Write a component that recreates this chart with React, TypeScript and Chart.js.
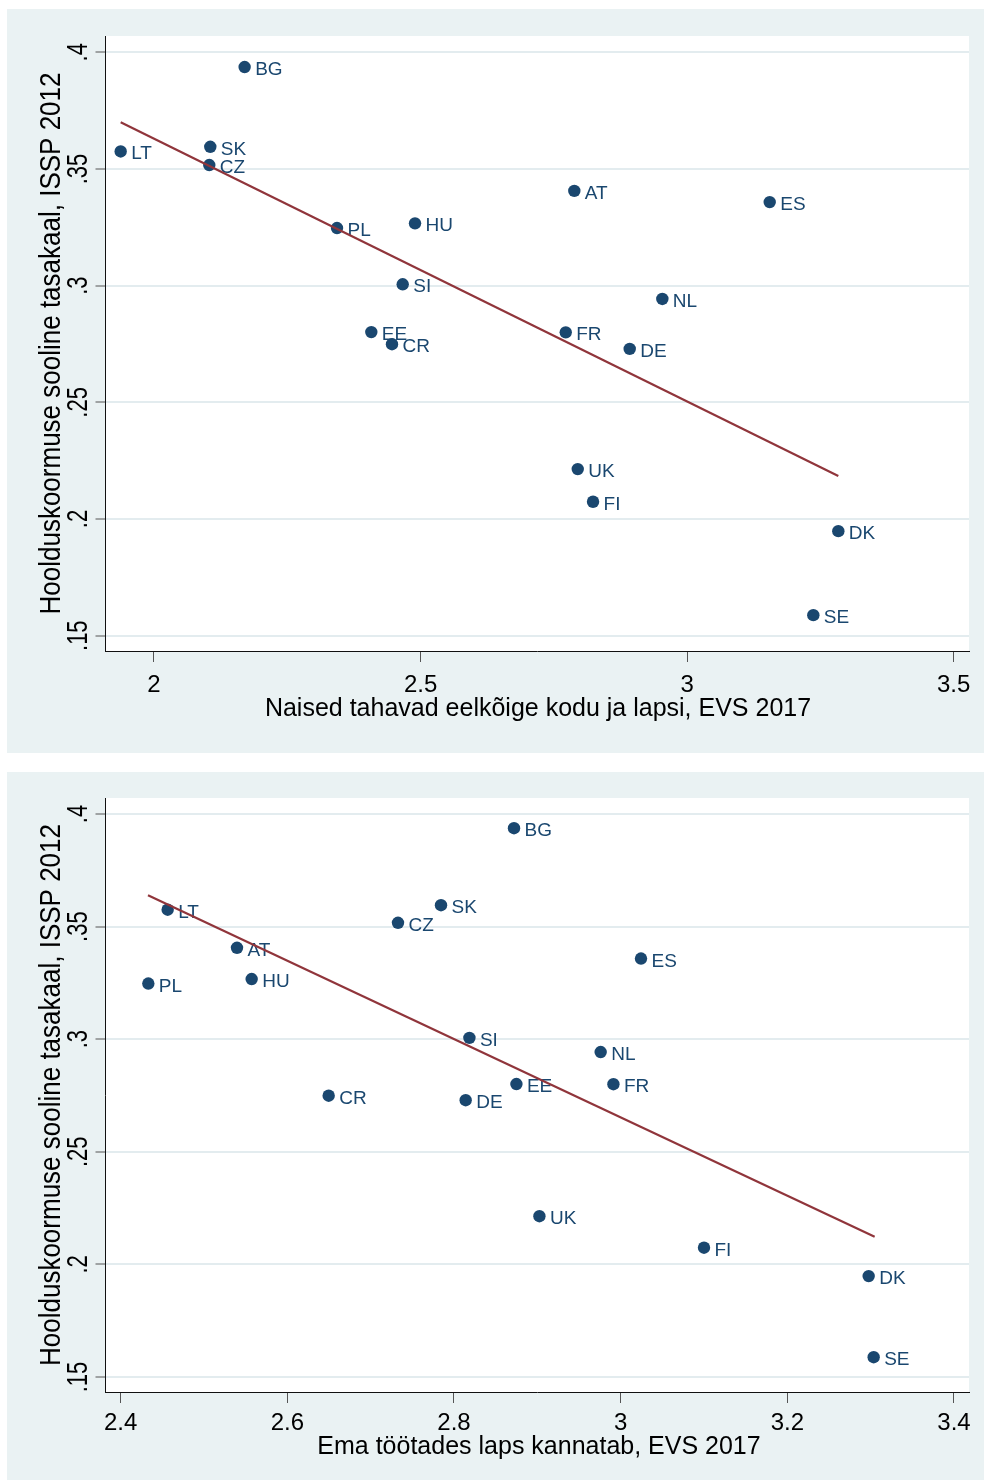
import React, { useEffect, useRef } from "react";
import { Chart, registerables } from "chart.js";

Chart.register(...registerables);

// Countries and their values
const countries = ["BG", "LT", "SK", "CZ", "PL", "HU", "SI", "EE", "CR", "AT", "ES", "NL", "FR", "DE", "UK", "FI", "DK", "SE"];
// Hoolduskoormuse sooline tasakaal, ISSP 2012
const careBalance = [0.3937, 0.3575, 0.3595, 0.3517, 0.3247, 0.3267, 0.3006, 0.2801, 0.2749, 0.3406, 0.3358, 0.2943, 0.28, 0.2729, 0.2214, 0.2074, 0.1948, 0.1588];
// Naised tahavad eelkõige kodu ja lapsi, EVS 2017
const womenWantHome = [2.17, 1.9375, 2.1056, 2.1037, 2.3433, 2.4896, 2.4665, 2.4076, 2.4464, 2.7884, 3.1549, 2.9535, 2.7723, 2.8923, 2.7948, 2.8235, 3.2836, 3.2367];
// Ema töötades laps kannatab, EVS 2017
const childSuffers = [2.872, 2.4564, 2.7844, 2.7328, 2.4332, 2.5572, 2.8185, 2.8749, 2.6496, 2.5396, 3.0244, 2.976, 2.9913, 2.814, 2.9025, 3.1, 3.2976, 3.3036];

// Linear fit endpoints
const fitHomeX = [1.9375, 3.2836];
const fitHomeY = [0.37, 0.2184];
const fitSuffersX = [2.4328, 3.3048];
const fitSuffersY = [0.3639, 0.2123];

// Axis ticks
const yTicks = [0.15, 0.2, 0.25, 0.3, 0.35, 0.4];
const yTickLabels = [".15", ".2", ".25", ".3", ".35", ".4"];
const xTicksHome = [2, 2.5, 3, 3.5];
const xTickLabelsHome = ["2", "2.5", "3", "3.5"];
const xTicksSuffers = [2.4, 2.6, 2.8, 3.0, 3.2, 3.4];
const xTickLabelsSuffers = ["2.4", "2.6", "2.8", "3", "3.2", "3.4"];

const yTitle = "Hoolduskoormuse sooline tasakaal, ISSP 2012";

const FONT = '"Liberation Sans", Arial, Helvetica, sans-serif';
const NAVY = "#1a476f";
const MAROON = "#90353b";
const REGION = "#eaf2f3";
const GRID = "#e3ecef";

type PanelProps = {
  width: number;
  height: number;
  padTop: number;
  chartBottom: number;
  xValues: number[];
  fitX: number[];
  fitY: number[];
  xMin: number;
  xMax: number;
  yMin: number;
  yMax: number;
  xTicks: number[];
  xTickLabels: string[];
  xTitle: string;
  xTickBaseline: number;
  xTitleBaseline: number;
  xTitleCenter: number;
};

function Panel(p: PanelProps) {
  const ref = useRef<HTMLCanvasElement | null>(null);

  useEffect(() => {
    const canvas = ref.current;
    if (!canvas) return;

    const decor = {
      id: "stataDecor",
      beforeDraw(chart: any) {
        const { ctx, chartArea: a } = chart;
        ctx.save();
        ctx.fillStyle = REGION;
        ctx.fillRect(0, 0, chart.width, chart.height);
        ctx.fillStyle = "#ffffff";
        ctx.fillRect(a.left, a.top, a.right - a.left, a.bottom - a.top);
        ctx.restore();
      },
      afterDatasetDraw(chart: any, args: any) {
        if (args.index !== 1) return;
        const ctx = chart.ctx;
        const meta = chart.getDatasetMeta(1);
        ctx.save();
        ctx.font = `19px ${FONT}`;
        ctx.fillStyle = NAVY;
        ctx.textAlign = "left";
        ctx.textBaseline = "alphabetic";
        meta.data.forEach((el: any, i: number) => {
          ctx.fillText(countries[i], el.x + 10.5, el.y + 8);
        });
        ctx.restore();
      },
      afterDraw(chart: any) {
        const ctx = chart.ctx;
        const xs = chart.scales.x;
        const ys = chart.scales.y;
        const a = chart.chartArea;
        ctx.save();
        ctx.fillStyle = "#000000";
        // x tick labels
        ctx.font = `24px ${FONT}`;
        ctx.textAlign = "center";
        ctx.textBaseline = "alphabetic";
        p.xTicks.forEach((v, i) => {
          ctx.fillText(p.xTickLabels[i], xs.getPixelForValue(v), p.xTickBaseline);
        });
        // x title
        ctx.font = `25px ${FONT}`;
        ctx.fillText(p.xTitle, p.xTitleCenter, p.xTitleBaseline);
        // y tick labels, vertical
        ctx.font = `22px ${FONT}`;
        yTicks.forEach((v, i) => {
          ctx.save();
          ctx.translate(79.7, ys.getPixelForValue(v));
          ctx.rotate(-Math.PI / 2);
          ctx.scale(1, 1.3);
          ctx.fillText(yTickLabels[i], 0, 0);
          ctx.restore();
        });
        // y title, vertical
        ctx.font = `26px ${FONT}`;
        ctx.save();
        ctx.translate(53, (a.top + a.bottom) / 2);
        ctx.rotate(-Math.PI / 2);
        ctx.scale(1, 1.15);
        ctx.fillText(yTitle, 0, 0);
        ctx.restore();
        ctx.restore();
      },
    };

    const chart = new Chart(canvas, {
      type: "scatter",
      data: {
        datasets: [
          {
            label: "fit",
            data: p.fitX.map((x, i) => ({ x, y: p.fitY[i] })),
            showLine: true,
            borderColor: MAROON,
            borderWidth: 2.2,
            pointRadius: 0,
            pointHoverRadius: 0,
            fill: false,
          },
          {
            label: "riigid",
            data: p.xValues.map((x, i) => ({ x, y: careBalance[i] })),
            pointRadius: 6.2,
            pointHoverRadius: 6.2,
            backgroundColor: NAVY,
            pointBackgroundColor: NAVY,
            borderWidth: 0,
            pointBorderWidth: 0,
          },
        ],
      },
      options: {
        animation: false,
        responsive: false,
        events: [],
        layout: { padding: { top: p.padTop, right: 15, left: 0, bottom: 0 } },
        plugins: {
          legend: { display: false },
          tooltip: { enabled: false },
        },
        scales: {
          x: {
            type: "linear",
            min: p.xMin,
            max: p.xMax,
            afterBuildTicks: (s: any) => {
              s.ticks = p.xTicks.map((v) => ({ value: v }));
            },
            afterFit: (s: any) => {
              s.height = p.height - p.chartBottom;
            },
            ticks: { display: false },
            grid: {
              display: true,
              drawOnChartArea: false,
              drawTicks: true,
              tickLength: 11,
              tickColor: "#555555",
              tickWidth: 1,
            },
            border: { display: true, color: "#111111", width: 1 },
          },
          y: {
            type: "linear",
            min: p.yMin,
            max: p.yMax,
            afterBuildTicks: (s: any) => {
              s.ticks = yTicks.map((v) => ({ value: v }));
            },
            afterFit: (s: any) => {
              s.width = 98;
            },
            ticks: { display: false },
            grid: {
              display: true,
              drawOnChartArea: true,
              color: GRID,
              lineWidth: 2,
              drawTicks: true,
              tickLength: 9.5,
              tickColor: "#555555",
              tickWidth: 1,
            },
            border: { display: true, color: "#111111", width: 1 },
          },
        },
      },
      plugins: [decor],
    } as any);

    return () => chart.destroy();
  }, []);

  return <canvas ref={ref} width={p.width} height={p.height} style={{ display: "block" }} />;
}

export default function App() {
  return (
    <div style={{ position: "absolute", left: 0, top: 0, width: 984, height: 1481, background: "#ffffff" }}>
      <div style={{ position: "absolute", left: 7, top: 9, width: 977, height: 744 }}>
        <Panel
          width={977}
          height={744}
          padTop={27}
          chartBottom={642}
          xValues={womenWantHome}
          fitX={fitHomeX}
          fitY={fitHomeY}
          xMin={1.9081}
          xMax={3.5287}
          yMin={0.14344}
          yMax={0.40699}
          xTicks={xTicksHome}
          xTickLabels={xTickLabelsHome}
          xTitle="Naised tahavad eelkõige kodu ja lapsi, EVS 2017"
          xTickBaseline={682.7}
          xTitleBaseline={707}
          xTitleCenter={531}
        />
      </div>
      <div style={{ position: "absolute", left: 7, top: 772, width: 977, height: 708 }}>
        <Panel
          width={977}
          height={708}
          padTop={26}
          chartBottom={620}
          xValues={childSuffers}
          fitX={fitSuffersX}
          fitY={fitSuffersY}
          xMin={2.3812}
          xMax={3.418}
          yMin={0.14334}
          yMax={0.4071}
          xTicks={xTicksSuffers}
          xTickLabels={xTickLabelsSuffers}
          xTitle="Ema töötades laps kannatab, EVS 2017"
          xTickBaseline={658}
          xTitleBaseline={682}
          xTitleCenter={532}
        />
      </div>
    </div>
  );
}
